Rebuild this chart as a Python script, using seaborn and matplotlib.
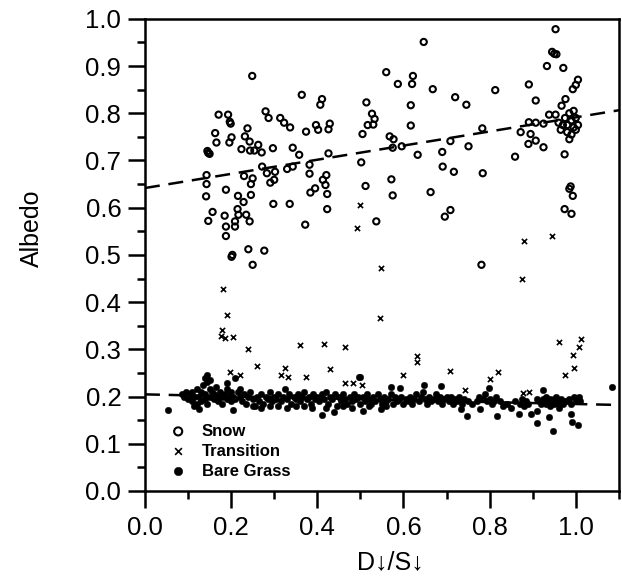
import numpy as np
import pandas as pd
import seaborn as sns
import matplotlib.pyplot as plt
from matplotlib.ticker import MultipleLocator

# values
snow_x = [0.143, 0.143, 0.142, 0.147, 0.157, 0.147, 0.163, 0.166, 0.171, 0.193,
          0.199, 0.201, 0.196, 0.188, 0.185, 0.188, 0.209, 0.209, 0.188, 0.201,
          0.224, 0.232, 0.238, 0.243, 0.244, 0.254, 0.263, 0.271, 0.230, 0.250,
          0.246, 0.216, 0.229, 0.246, 0.215, 0.217, 0.235, 0.243, 0.249, 0.240,
          0.250, 0.277, 0.280, 0.287, 0.297, 0.272, 0.283, 0.291, 0.300, 0.302,
          0.298, 0.314, 0.323, 0.337, 0.330, 0.343, 0.336, 0.343, 0.358, 0.364,
          0.374, 0.372, 0.384, 0.382, 0.382, 0.395, 0.397, 0.402, 0.411, 0.407,
          0.413, 0.419, 0.423, 0.423, 0.421, 0.426, 0.429, 0.426,
          0.953, 0.950, 0.647, 0.560, 0.587, 0.622, 0.620, 0.668, 0.720, 0.746,
          0.813, 0.891, 0.933, 0.971, 1.005, 1.000, 0.993, 0.976, 0.967, 0.907,
          0.514, 0.527, 0.533, 0.517, 0.530, 0.505, 0.617, 0.617, 0.568, 0.577,
          0.575, 0.596, 0.502, 0.633, 0.690, 0.709, 0.751, 0.783, 0.691, 0.717,
          0.784, 0.859, 0.872, 0.891, 0.907, 0.925, 0.938, 0.953, 0.895, 0.890,
          0.907, 0.925, 0.974, 0.572, 0.512, 0.575, 0.663, 0.709, 0.696, 0.537,
          0.985, 0.993, 0.974, 0.990, 0.781,
          0.975, 0.980, 0.985, 0.990, 0.995, 1.000, 0.980, 0.990, 1.000, 0.985,
          0.995, 1.005, 0.970, 0.960, 0.965, 0.945, 0.955, 0.145, 0.150, 0.197,
          0.203, 0.988]
snow_y = [0.669, 0.650, 0.624, 0.572, 0.591, 0.716, 0.758, 0.738, 0.797, 0.797,
          0.778, 0.749, 0.738, 0.638, 0.583, 0.560, 0.571, 0.560, 0.540, 0.496,
          0.724, 0.751, 0.768, 0.740, 0.721, 0.721, 0.733, 0.717, 0.667, 0.662,
          0.650, 0.625, 0.612, 0.627, 0.597, 0.585, 0.585, 0.571, 0.879, 0.512,
          0.479, 0.509, 0.804, 0.790, 0.726, 0.687, 0.673, 0.653, 0.659, 0.676,
          0.608, 0.790, 0.780, 0.770, 0.682, 0.687, 0.608, 0.727, 0.712, 0.839,
          0.761, 0.564, 0.632, 0.672, 0.691, 0.641, 0.775, 0.765, 0.830, 0.818,
          0.659, 0.648, 0.629, 0.597, 0.669, 0.715, 0.778, 0.766,
          0.978, 0.926, 0.951, 0.887, 0.862, 0.879, 0.862, 0.851, 0.834, 0.818,
          0.849, 0.861, 0.900, 0.896, 0.871, 0.860, 0.851, 0.830, 0.816, 0.827,
          0.823, 0.799, 0.788, 0.775, 0.776, 0.756, 0.817, 0.774, 0.751, 0.745,
          0.727, 0.730, 0.696, 0.712, 0.718, 0.741, 0.730, 0.768, 0.687, 0.676,
          0.673, 0.708, 0.760, 0.781, 0.780, 0.778, 0.797, 0.797, 0.756, 0.735,
          0.742, 0.728, 0.713, 0.660, 0.646, 0.626, 0.633, 0.595, 0.581, 0.571,
          0.640, 0.625, 0.597, 0.587, 0.479,
          0.790, 0.775, 0.800, 0.785, 0.770, 0.790, 0.760, 0.755, 0.765, 0.745,
          0.805, 0.775, 0.775, 0.780, 0.765, 0.930, 0.925, 0.720, 0.714, 0.782,
          0.500, 0.645]

trans_x = [0.182, 0.191, 0.180, 0.176, 0.185, 0.204, 0.240, 0.260, 0.198, 0.221,
           0.326, 0.316, 0.333, 0.359, 0.374, 0.416, 0.429, 0.465, 0.465, 0.484,
           0.504, 0.500, 0.493, 0.547, 0.880, 0.944, 0.874, 0.545, 0.632, 0.632,
           0.599, 0.708, 0.819, 0.802, 0.960, 1.012, 1.007, 0.994, 0.996, 0.975,
           0.744, 0.878, 0.891]
trans_y = [0.427, 0.373, 0.340, 0.328, 0.323, 0.326, 0.300, 0.265, 0.251, 0.246,
           0.260, 0.246, 0.242, 0.309, 0.242, 0.311, 0.258, 0.304, 0.229, 0.229,
           0.225, 0.606, 0.556, 0.472, 0.530, 0.540, 0.449, 0.366, 0.286, 0.274,
           0.246, 0.255, 0.251, 0.237, 0.316, 0.321, 0.304, 0.287, 0.261, 0.246,
           0.214, 0.207, 0.210]

grass_x = [0.054, 0.085, 0.090, 0.095, 0.100, 0.105, 0.110, 0.110, 0.115, 0.120,
           0.120, 0.125, 0.130, 0.130, 0.135, 0.140, 0.140, 0.145, 0.145, 0.150,
           0.150, 0.155, 0.160, 0.160, 0.165, 0.170, 0.170, 0.175, 0.180, 0.180,
           0.185, 0.190, 0.190, 0.195, 0.200, 0.200, 0.115, 0.126, 0.140, 0.150,
           0.205, 0.210, 0.215, 0.220, 0.225, 0.230, 0.235, 0.240, 0.245, 0.250,
           0.255, 0.260, 0.265, 0.270, 0.275, 0.280, 0.285, 0.290, 0.295, 0.300,
           0.220, 0.250, 0.270, 0.290, 0.190, 0.205, 0.209, 0.143, 0.305, 0.310,
           0.315, 0.320, 0.325, 0.330, 0.335, 0.340, 0.345, 0.350, 0.355, 0.360,
           0.365, 0.370, 0.375, 0.380, 0.385, 0.390, 0.395, 0.400, 0.310, 0.330,
           0.350, 0.370, 0.388, 0.405, 0.410, 0.411, 0.415, 0.420, 0.425, 0.430,
           0.435, 0.438, 0.440, 0.445, 0.450, 0.455, 0.460, 0.465, 0.470, 0.475,
           0.480, 0.485, 0.490, 0.495, 0.496, 0.498, 0.500, 0.420, 0.460, 0.480,
           0.505, 0.506, 0.510, 0.515, 0.520, 0.525, 0.530, 0.535, 0.540, 0.545,
           0.548, 0.550, 0.555, 0.560, 0.565, 0.570, 0.570, 0.575, 0.580, 0.585,
           0.590, 0.593, 0.595, 0.600, 0.520, 0.560, 0.605, 0.610, 0.615, 0.620,
           0.625, 0.630, 0.635, 0.640, 0.645, 0.647, 0.650, 0.655, 0.660, 0.665,
           0.670, 0.675, 0.680, 0.685, 0.686, 0.690, 0.695, 0.700, 0.705, 0.710,
           0.715, 0.720, 0.725, 0.730, 0.733, 0.735, 0.740, 0.747, 0.750, 0.760,
           0.770, 0.775, 0.777, 0.785, 0.790, 0.795, 0.798, 0.800, 0.805, 0.810,
           0.815, 0.818, 0.825, 0.830, 0.840, 0.850, 0.860, 0.868, 0.870, 0.875,
           0.880, 0.885, 0.890, 0.895, 0.910, 0.911, 0.911, 0.915, 0.920, 0.925,
           0.930, 0.935, 0.938, 0.940, 0.945, 0.948, 0.950, 0.955, 0.960, 0.965,
           0.970, 0.980, 0.988, 0.990, 0.992, 1.000, 1.005, 1.008, 1.010, 1.085,
           0.960, 0.925, 0.930, 0.940, 0.950, 0.955, 0.965, 0.975, 0.985, 0.995]
grass_y = [0.172, 0.205, 0.200, 0.210, 0.195, 0.205, 0.190, 0.210, 0.200, 0.215,
           0.185, 0.200, 0.210, 0.190, 0.225, 0.205, 0.195, 0.230, 0.185, 0.200,
           0.215, 0.210, 0.195, 0.205, 0.220, 0.200, 0.190, 0.210, 0.200, 0.185,
           0.205, 0.195, 0.215, 0.200, 0.190, 0.210, 0.180, 0.174, 0.240, 0.235,
           0.200, 0.195, 0.210, 0.200, 0.190, 0.205, 0.185, 0.200, 0.210, 0.195,
           0.180, 0.200, 0.190, 0.205, 0.185, 0.200, 0.195, 0.210, 0.190, 0.200,
           0.215, 0.180, 0.175, 0.180, 0.228, 0.172, 0.239, 0.246, 0.195, 0.205,
           0.190, 0.200, 0.215, 0.195, 0.205, 0.185, 0.200, 0.195, 0.205, 0.190,
           0.200, 0.210, 0.195, 0.200, 0.185, 0.205, 0.195, 0.200, 0.180, 0.175,
           0.180, 0.180, 0.175, 0.190, 0.205, 0.161, 0.195, 0.210, 0.185, 0.200,
           0.195, 0.168, 0.205, 0.180, 0.200, 0.190, 0.205, 0.195, 0.185, 0.200,
           0.190, 0.205, 0.195, 0.200, 0.242, 0.242, 0.185, 0.175, 0.180, 0.175,
           0.200, 0.170, 0.190, 0.205, 0.195, 0.185, 0.200, 0.190, 0.205, 0.195,
           0.173, 0.185, 0.200, 0.190, 0.195, 0.205, 0.221, 0.185, 0.200, 0.190,
           0.195, 0.218, 0.200, 0.185, 0.180, 0.180, 0.195, 0.190, 0.200, 0.185,
           0.195, 0.205, 0.190, 0.200, 0.210, 0.225, 0.195, 0.185, 0.200, 0.190,
           0.195, 0.205, 0.190, 0.200, 0.222, 0.185, 0.195, 0.200, 0.190, 0.200,
           0.185, 0.195, 0.190, 0.200, 0.173, 0.185, 0.195, 0.159, 0.190, 0.185,
           0.190, 0.200, 0.173, 0.195, 0.205, 0.190, 0.218, 0.195, 0.185, 0.190,
           0.200, 0.159, 0.190, 0.180, 0.185, 0.175, 0.190, 0.163, 0.185, 0.195,
           0.180, 0.190, 0.185, 0.163, 0.195, 0.170, 0.145, 0.190, 0.185, 0.214,
           0.185, 0.190, 0.156, 0.180, 0.190, 0.128, 0.185, 0.190, 0.185, 0.190,
           0.185, 0.190, 0.163, 0.185, 0.147, 0.190, 0.140, 0.198, 0.190, 0.220,
           0.175, 0.195, 0.200, 0.195, 0.195, 0.200, 0.195, 0.190, 0.195, 0.198]

snow = pd.DataFrame({"ratio": snow_x, "albedo": snow_y})
trans = pd.DataFrame({"ratio": trans_x, "albedo": trans_y})
grass = pd.DataFrame({"ratio": grass_x, "albedo": grass_y})

sns.set_style("ticks")
plt.rcParams["font.family"] = ["Liberation Sans", "DejaVu Sans"]
for k in ["text.color", "axes.labelcolor", "xtick.color", "ytick.color", "axes.edgecolor"]:
    plt.rcParams[k] = "black"

fig = plt.figure(figsize=(6.22, 5.88), dpi=100)
ax = fig.add_axes([0.233, 0.165, 0.762, 0.803])
ax.set_xlim(0, 1.1)
ax.set_ylim(0, 1.0)

sns.scatterplot(data=grass, x="ratio", y="albedo", ax=ax, marker="o", s=22,
                color="black", edgecolor="black", linewidth=0.3, label="Bare Grass", zorder=3)
sns.scatterplot(data=trans, x="ratio", y="albedo", ax=ax, marker="x", s=14,
                color="black", linewidth=1.2, label="Transition", zorder=3)
sns.scatterplot(data=snow, x="ratio", y="albedo", ax=ax, marker="o", s=20,
                facecolor="none", edgecolor="black", linewidth=1.5, label="Snow", zorder=3)

# fitted lines
for d in (snow, grass):
    sns.regplot(data=d, x="ratio", y="albedo", ax=ax, scatter=False, ci=None,
                truncate=False, color="black",
                line_kws=dict(linewidth=1.8, dashes=(6, 3.5), zorder=4))
ax.set_xlim(0, 1.1)

ax.xaxis.set_major_locator(MultipleLocator(0.2))
ax.xaxis.set_minor_locator(MultipleLocator(0.1))
ax.yaxis.set_major_locator(MultipleLocator(0.1))
ax.yaxis.set_minor_locator(MultipleLocator(0.05))
ax.set_xticks([0.0, 0.2, 0.4, 0.6, 0.8, 1.0])
ax.set_xticklabels(["0.0", "0.2", "0.4", "0.6", "0.8", "1.0"])
ax.set_yticklabels([f"{v:.1f}" for v in ax.get_yticks()])
ax.tick_params(which="major", direction="out", length=12, width=1.8, labelsize=18.5)
ax.tick_params(which="minor", direction="out", length=6, width=1.8)
ax.tick_params(axis="x", which="major", pad=6)
ax.tick_params(axis="y", which="major", pad=5)
for sp in ax.spines.values():
    sp.set_linewidth(1.8)

ax.set_xlabel("D↓/S↓", fontsize=18)
ax.set_ylabel("Albedo", fontsize=18)
ax.xaxis.set_label_coords(0.518, -0.125)
ax.yaxis.set_label_coords(-0.212, 0.557)

h, l = ax.get_legend_handles_labels()
order = [l.index("Snow"), l.index("Transition"), l.index("Bare Grass")]
leg = ax.legend([h[i] for i in order], [l[i] for i in order], loc="upper left",
                bbox_to_anchor=(0.035, 0.16), frameon=False, borderpad=0,
                handlelength=1.0, handletextpad=0.9, labelspacing=0.3,
                markerscale=1.3, prop=dict(size=12, weight="bold"))

fig.savefig("out.png", dpi=100)
